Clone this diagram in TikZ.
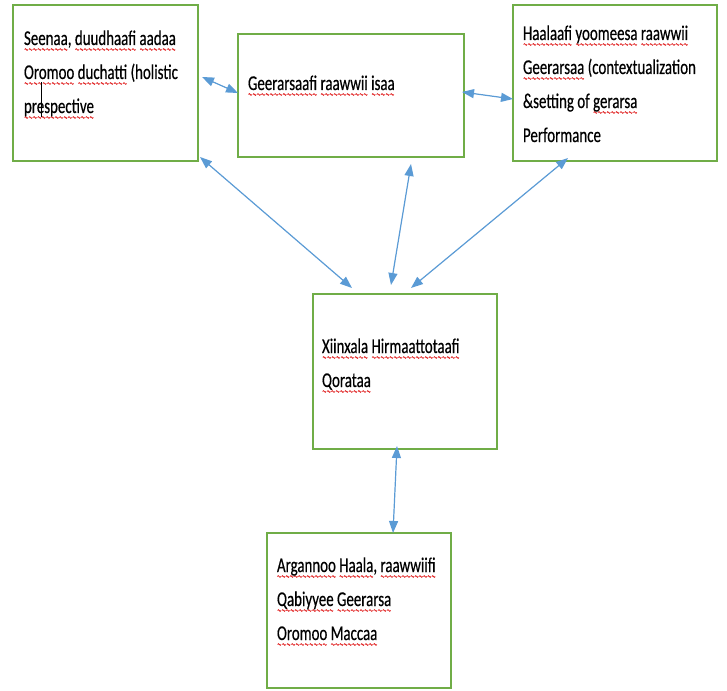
\documentclass[tikz,border=0pt]{standalone}
\usepackage{fontspec}
\setmainfont{Carlito}[FakeStretch=0.71,FakeBold=0.4]
\usetikzlibrary{arrows.meta}
\definecolor{boxgreen}{HTML}{70AD47}
\definecolor{arrowblue}{HTML}{5B9BD5}
\definecolor{wavered}{HTML}{E02020}
\newsavebox\wavebox
\newlength\sqw
\newcommand\sq[1]{\settowidth\sqw{#1}\rlap{\lower4.5pt\hbox to\sqw{\xleaders\copy\wavebox\hfil}}#1}
\tikzset{
  box/.style={draw=boxgreen, line width=1.5pt, rectangle, anchor=north west, inner sep=0pt, outer sep=0pt},
  line/.style={anchor=base west, inner sep=0pt, outer sep=0pt, font=\fontsize{21}{34}\selectfont},
  link/.style={draw=arrowblue, line width=1.2pt, {Triangle[length=12pt,width=9pt]}-{Triangle[length=12pt,width=9pt]}, fill=arrowblue}
}
\begin{document}
\sbox\wavebox{\begin{pgfpicture}%
\pgfsetstrokecolor{wavered}%
\pgfsetlinewidth{0.8pt}%
\pgfpathmoveto{\pgfpoint{0pt}{0pt}}%
\pgfpathcurveto{\pgfpoint{0.6pt}{1.1pt}}{\pgfpoint{1.1pt}{1.1pt}}{\pgfpoint{1.7pt}{0pt}}%
\pgfpathcurveto{\pgfpoint{2.3pt}{-1.1pt}}{\pgfpoint{2.8pt}{-1.1pt}}{\pgfpoint{3.4pt}{0pt}}%
\pgfusepath{stroke}%
\pgfsetbaseline{0pt}%
\end{pgfpicture}}%
\begin{tikzpicture}[x=1pt,y=-1pt]
\useasboundingbox (0,0) rectangle (727,690);
% boxes
\node[box, minimum width=185pt, minimum height=156pt] (tl) at (13,5) {};
\node[box, minimum width=226pt, minimum height=123pt] (tm) at (238,34) {};
\node[box, minimum width=204pt, minimum height=156pt] (tr) at (513,5) {};
\node[box, minimum width=184pt, minimum height=155pt] (mid) at (313,294) {};
\node[box, minimum width=184pt, minimum height=155pt] (bot) at (267,533) {};
% texts
\node[line] (tl1) at (24,45) {\sq{Seenaa}, \sq{duudhaafi} \sq{aadaa}};
\node[line] (tl2) at (24,79) {\sq{Oromoo} \sq{duchatti} (holistic};
\node[line] (tl3) at (24,113) {\sq{prespective}};
\draw[black, line width=0.9pt] (41,82) -- (41,117);
\node[line] (tm1) at (248,90) {\sq{Geerarsaafi} \sq{raawwii} \sq{isaa}};
\node[line] (tr1) at (523,40) {\sq{Haalaafi} \sq{yoomeesa} \sq{raawwii}};
\node[line] (tr2) at (523,74) {\sq{Geerarsaa} (contextualization};
\node[line] (tr3) at (523,108) {\&setting of \sq{gerarsa}};
\node[line] (tr4) at (523,142) {Performance};
\node[line] (m1) at (322,353) {\sq{Xiinxala} \sq{Hirmaattotaafi}};
\node[line] (m2) at (322,387) {\sq{Qorataa}};
\node[line] (b1) at (277,572) {\sq{Argannoo} \sq{Haala}, \sq{raawwiifi}};
\node[line] (b2) at (277,606) {\sq{Qabiyyee} \sq{Geerarsa}};
\node[line] (b3) at (277,640) {\sq{Oromoo} \sq{Maccaa}};
% arrow end points
\coordinate (a1s) at (202,77);  \coordinate (a1e) at (238,93);
\coordinate (a2s) at (462,92);  \coordinate (a2e) at (513,99);
\coordinate (a3s) at (200,157); \coordinate (a3e) at (352,288);
\coordinate (a4s) at (411,164); \coordinate (a4e) at (391,285);
\coordinate (a5s) at (568,158); \coordinate (a5e) at (411,288);
\coordinate (a6s) at (397,446); \coordinate (a6e) at (393,533);
\draw[link] (a1s) -- (a1e);
\draw[link] (a2s) -- (a2e);
\draw[link] (a3s) -- (a3e);
\draw[link] (a4s) -- (a4e);
\draw[link] (a5s) -- (a5e);
\draw[link] (a6s) -- (a6e);
\end{tikzpicture}
\end{document}
